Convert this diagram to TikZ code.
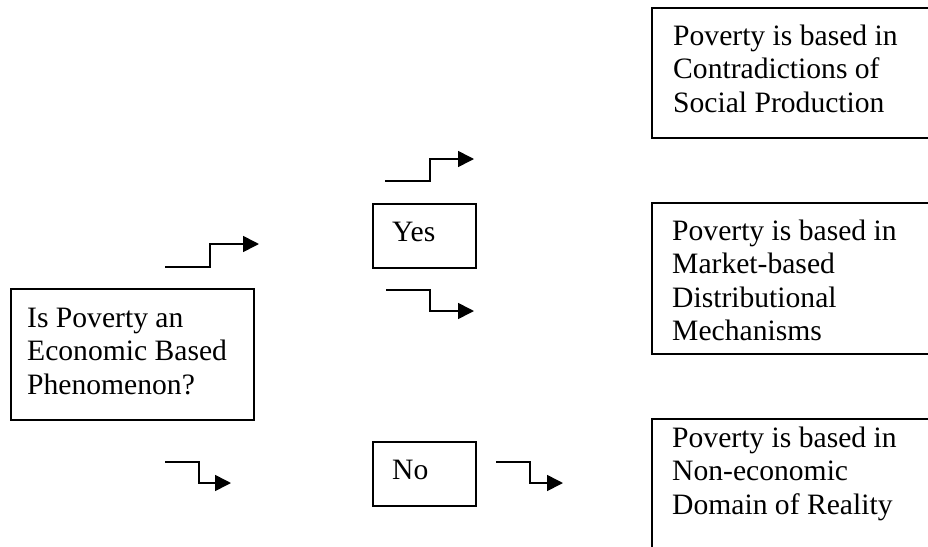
\documentclass[tikz,border=0pt]{standalone}
\usepackage{fontspec}
\setmainfont{Liberation Serif}
\usetikzlibrary{arrows.meta}
\tikzset{
  box/.style={draw, line width=1.6pt, inner sep=0pt, anchor=north west},
  txt/.style={anchor=base west, align=left, inner sep=0pt, font=\fontsize{29.6}{33.5}\selectfont},
  steparrow/.style={line width=1.6pt, -{Triangle[length=16pt,width=16pt]}}
}
\begin{document}
\begin{tikzpicture}[x=1pt,y=-1pt]
\useasboundingbox (0,0) rectangle (928,546);
\clip (0,0) rectangle (928,546);
% boxes
\node[box, minimum width=243pt, minimum height=131pt] (qbox) at (10,288) {};
\node[box, minimum width=103pt, minimum height=64pt] (yesbox) at (372,203) {};
\node[box, minimum width=103pt, minimum height=64pt] (nobox) at (372,441) {};
\node[box, minimum width=300pt, minimum height=130pt] (r1) at (651,7) {};
\node[box, minimum width=300pt, minimum height=151pt] (r2) at (651,202) {};
\node[box, minimum width=300pt, minimum height=160pt] (r3) at (651,418) {};
% texts (base anchor = baseline of the last line)
\node[txt] (qt) at (27,394) {Is Poverty an\\Economic Based\\Phenomenon?};
\node[txt] (yt) at (392,241) {Yes};
\node[txt] (nt) at (392,479) {No};
\node[txt] (r1t) at (673,112) {Poverty is based in\\Contradictions of\\Social Production};
\node[txt] (r2t) at (672,340.5) {Poverty is based in\\Market-based\\Distributional\\Mechanisms};
\node[txt] (r3t) at (672,514) {Poverty is based in\\Non-economic\\Domain of Reality};
% arrows
\coordinate (a1s) at (165,267); \coordinate (a1e) at (259,244);
\coordinate (a2s) at (385,181); \coordinate (a2e) at (474,159);
\coordinate (a3s) at (386,290); \coordinate (a3e) at (474,311);
\coordinate (a4s) at (165,462); \coordinate (a4e) at (231,483);
\coordinate (a5s) at (496,462); \coordinate (a5e) at (563,483);
\draw[steparrow] (a1s) -- (210,267) |- (a1e);
\draw[steparrow] (a2s) -- (430,181) |- (a2e);
\draw[steparrow] (a3s) -- (430,290) |- (a3e);
\draw[steparrow] (a4s) -- (199,462) |- (a4e);
\draw[steparrow] (a5s) -- (530,462) |- (a5e);
\end{tikzpicture}
\end{document}
